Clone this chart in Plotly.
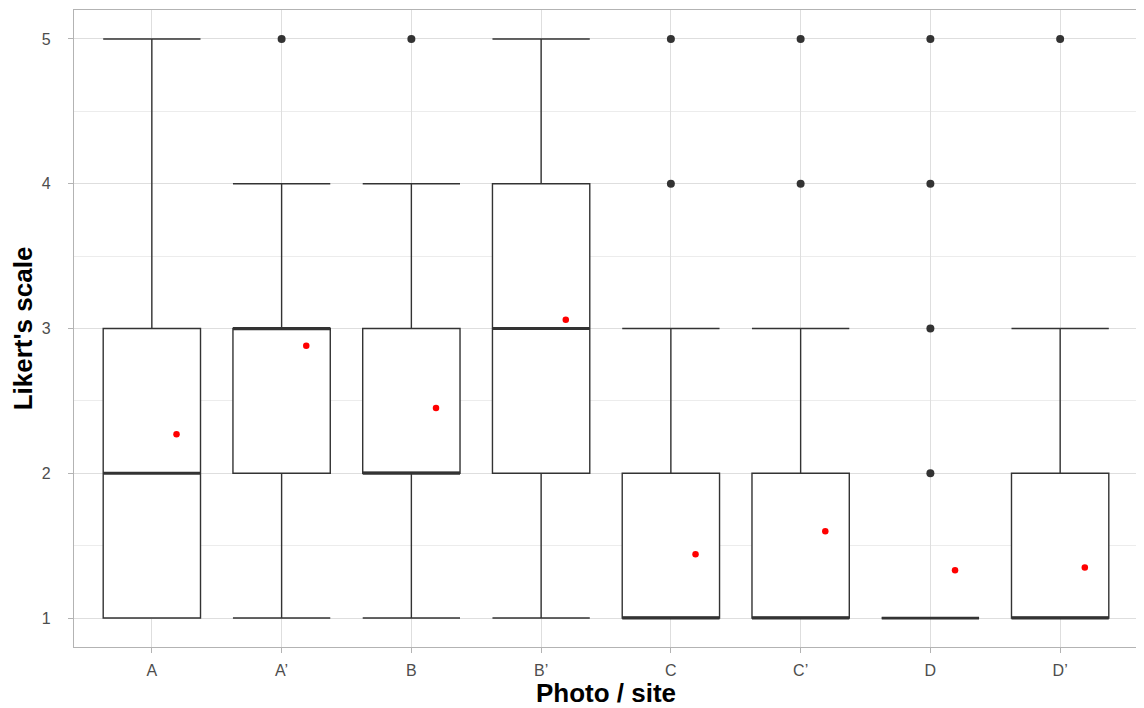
import plotly.graph_objects as go

categories = ["A", "A\u2019", "B", "B\u2019", "C", "C\u2019", "D", "D\u2019"]
q1 = [1, 2, 2, 2, 1, 1, 1, 1]
median = [2, 3, 2, 3, 1, 1, 1, 1]
q3 = [3, 3, 3, 4, 2, 2, 1, 2]
lower_whisker = [1, 1, 1, 1, 1, 1, 1, 1]
upper_whisker = [5, 4, 4, 5, 3, 3, 1, 3]
outliers = [[], [5], [5], [], [4, 5], [4, 5], [2, 3, 4, 5], [5]]
means = [2.27, 2.88, 2.45, 3.06, 1.44, 1.60, 1.33, 1.35]

pos = list(range(len(categories)))
box_w = 0.75
mean_shift = 0.19
line_col = "#333333"

fig = go.Figure()
for i, c in enumerate(categories):
    fig.add_trace(go.Box(
        x=[pos[i]], q1=[q1[i]], median=[median[i]], q3=[q3[i]],
        lowerfence=[lower_whisker[i]], upperfence=[upper_whisker[i]],
        width=box_w, whiskerwidth=1, fillcolor="white",
        line=dict(color=line_col, width=1.4), boxpoints=False,
        showlegend=False, hoverinfo="skip"))
    fig.add_trace(go.Scatter(
        x=[pos[i] - box_w / 2, pos[i] + box_w / 2], y=[median[i], median[i]],
        mode="lines", line=dict(color=line_col, width=2.8),
        showlegend=False, hoverinfo="skip"))

ox, oy = [], []
for i, outs in enumerate(outliers):
    for v in outs:
        ox.append(pos[i]); oy.append(v)
fig.add_trace(go.Scatter(x=ox, y=oy, mode="markers",
                         marker=dict(color=line_col, size=8),
                         showlegend=False))
fig.add_trace(go.Scatter(x=[p + mean_shift for p in pos], y=means, mode="markers",
                         marker=dict(color="red", size=6.5),
                         showlegend=False))

fig.update_layout(
    width=1136, height=700,
    margin=dict(l=66, r=6, t=2, b=61),
    plot_bgcolor="white", paper_bgcolor="white",
    font=dict(family="Liberation Sans, Arial, sans-serif", color="#4d4d4d", size=16),
    xaxis=dict(
        automargin=False,
        range=[-0.6, len(categories) - 0.4],
        tickvals=pos, ticktext=categories,
        showgrid=True, gridcolor="#dedede", gridwidth=1,
        zeroline=False, showline=True, linecolor="#b3b3b3", linewidth=1.3, mirror=True,
        ticks="outside", ticklen=5, tickcolor="#b3b3b3", ticklabelstandoff=4,
        title=dict(text="<b>Photo / site</b>", font=dict(size=26, color="black"), standoff=11),
        tickfont=dict(size=16, color="#4d4d4d"),
    ),
    yaxis=dict(
        automargin=False,
        range=[0.8, 5.2],
        tickvals=[1, 2, 3, 4, 5],
        showgrid=True, gridcolor="#dedede", gridwidth=1,
        minor=dict(tickvals=[1.5, 2.5, 3.5, 4.5], showgrid=True, gridcolor="#ececec", gridwidth=1),
        zeroline=False, showline=True, linecolor="#b3b3b3", linewidth=1.3, mirror=True,
        ticks="outside", ticklen=5, tickcolor="#b3b3b3", ticklabelstandoff=14,
        title=dict(text="<b>Likert's scale</b>", font=dict(size=26, color="black"), standoff=4),
        tickfont=dict(size=16, color="#4d4d4d"),
    ),
)

fig.write_html("out.html")
